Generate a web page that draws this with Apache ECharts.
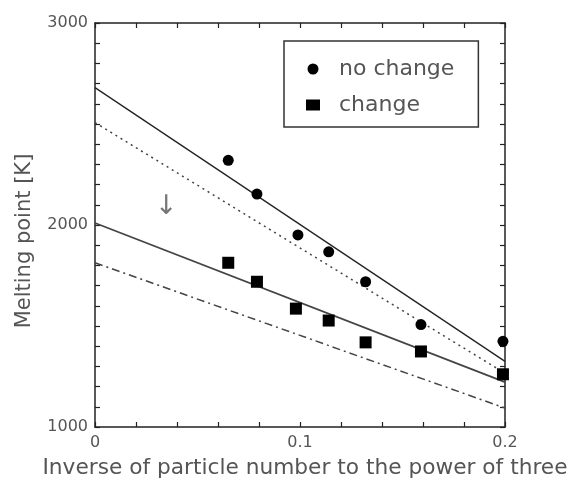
<!DOCTYPE html>
<html>
<head>
<meta charset="utf-8">
<script src="https://cdn.jsdelivr.net/npm/echarts@6/dist/echarts.min.js"></script>
<style>html,body{margin:0;padding:0;background:#fff}#c{width:573px;height:484px}</style>
</head>
<body>
<div id="c"></div>
<script>
// ---- data ----
const xNoChange = [0.065, 0.079, 0.099, 0.114, 0.132, 0.159, 0.199];
const yNoChange = [2320, 2153, 1951, 1867, 1719, 1507, 1424];
const xChange = [0.065, 0.079, 0.098, 0.114, 0.132, 0.159, 0.199];
const yChange = [1813, 1719, 1586, 1527, 1419, 1374, 1261];
const fitX = [0, 0.2];
const fitNoChangeSolid = [2680, 1325];
const fitNoChangeDotted = [2507, 1266];
const fitChangeSolid = [2010, 1222];
const fitChangeDashDot = [1813, 1094];
const xTicks = [0, 0.1, 0.2];
const yTicks = [1000, 2000, 3000];
const legendNames = ['no change', 'change'];

const FONT = 'DejaVu Sans';
const TXT = '#555';
const AX = '#222';

function pairs(xs, ys) { return xs.map((x, i) => [x, ys[i]]); }

const chart = echarts.init(document.getElementById('c'));

const baseAxisLine = { show: true, onZero: false, lineStyle: { color: AX, width: 1.5 } };
const tickStyle = { show: true, inside: true, length: 5, lineStyle: { color: AX, width: 1.2 } };
const xMinor = { show: true, splitNumber: 5, length: 5, lineStyle: { color: AX, width: 1.2 } };
const yMinor = { show: true, splitNumber: 10, length: 5, lineStyle: { color: AX, width: 1.2 } };

chart.setOption({
  backgroundColor: '#fff',
  animation: false,
  grid: { left: 95, right: 68, top: 23, bottom: 55, containLabel: false },
  legend: {
    data: legendNames,
    orient: 'vertical',
    left: 284, top: 41,
    padding: [17, 24, 11, 22],
    itemGap: 14,
    itemWidth: 14, itemHeight: 11,
    borderColor: '#333', borderWidth: 1.5,
    textStyle: { fontFamily: FONT, fontSize: 22, color: TXT, padding: [0, 0, 0, 14] },
    selectedMode: false
  },
  xAxis: [{
    type: 'value', min: 0, max: 0.2, interval: 0.1,
    name: 'Inverse of particle number to the power of three',
    nameLocation: 'middle', nameGap: 30,
    nameTextStyle: { fontFamily: FONT, fontSize: 21.7, color: TXT, padding: [0, 0, 0, 10] },
    axisLine: baseAxisLine, axisTick: tickStyle, minorTick: xMinor,
    axisLabel: { fontFamily: FONT, fontSize: 16, color: TXT, margin: 8,
      formatter: v => { const t = xTicks.find(k => Math.abs(k - v) < 1e-9); return t === undefined ? '' : String(t); } },
    splitLine: { show: false }, minorSplitLine: { show: false }
  }, {
    type: 'value', min: 0, max: 0.2, interval: 0.1, position: 'top',
    axisLine: baseAxisLine, axisTick: tickStyle, minorTick: xMinor,
    axisLabel: { show: false }, splitLine: { show: false }, minorSplitLine: { show: false }
  }],
  yAxis: [{
    type: 'value', min: 1000, max: 3000, interval: 1000,
    name: 'Melting point [K]',
    nameLocation: 'middle', nameGap: 60,
    nameTextStyle: { fontFamily: FONT, fontSize: 21, color: TXT, padding: [0, 32, 0, 0] },
    axisLine: baseAxisLine, axisTick: tickStyle, minorTick: yMinor,
    axisLabel: { fontFamily: FONT, fontSize: 16, color: TXT, margin: 7,
      formatter: v => { const t = yTicks.find(k => k === v); return t === undefined ? '' : String(t); } },
    splitLine: { show: false }, minorSplitLine: { show: false }
  }, {
    type: 'value', min: 1000, max: 3000, interval: 1000, position: 'right',
    axisLine: baseAxisLine, axisTick: tickStyle, minorTick: yMinor,
    axisLabel: { show: false }, splitLine: { show: false }, minorSplitLine: { show: false }
  }],
  graphic: [{
    type: 'text', left: 155, top: 193,
    style: { text: '↓', fontFamily: FONT, fontSize: 27, fill: '#777' }
  }],
  series: [
    { name: 'fit1', type: 'line', data: pairs(fitX, fitNoChangeSolid), showSymbol: false, symbol: 'none',
      lineStyle: { color: '#222', width: 1.3, type: 'solid' }, silent: true, z: 2 },
    { name: 'fit2', type: 'line', data: pairs(fitX, fitNoChangeDotted), showSymbol: false, symbol: 'none',
      lineStyle: { color: '#444', width: 1.5, type: [2, 4] }, silent: true, z: 2 },
    { name: 'fit3', type: 'line', data: pairs(fitX, fitChangeSolid), showSymbol: false, symbol: 'none',
      lineStyle: { color: '#444', width: 1.8, type: 'solid' }, silent: true, z: 2 },
    { name: 'fit4', type: 'line', data: pairs(fitX, fitChangeDashDot), showSymbol: false, symbol: 'none',
      lineStyle: { color: '#444', width: 1.5, type: [8, 4, 2, 4] }, silent: true, z: 2 },
    { name: 'no change', type: 'scatter', data: pairs(xNoChange, yNoChange), symbol: 'circle', symbolSize: 11,
      itemStyle: { color: '#000', opacity: 1 }, z: 5 },
    { name: 'change', type: 'scatter', data: pairs(xChange, yChange), symbol: 'rect', symbolSize: 12,
      itemStyle: { color: '#000', opacity: 1 }, z: 5 },
    { name: 'mirror', type: 'scatter', xAxisIndex: 1, yAxisIndex: 1, data: [], silent: true }
  ]
});
</script>
</body>
</html>
